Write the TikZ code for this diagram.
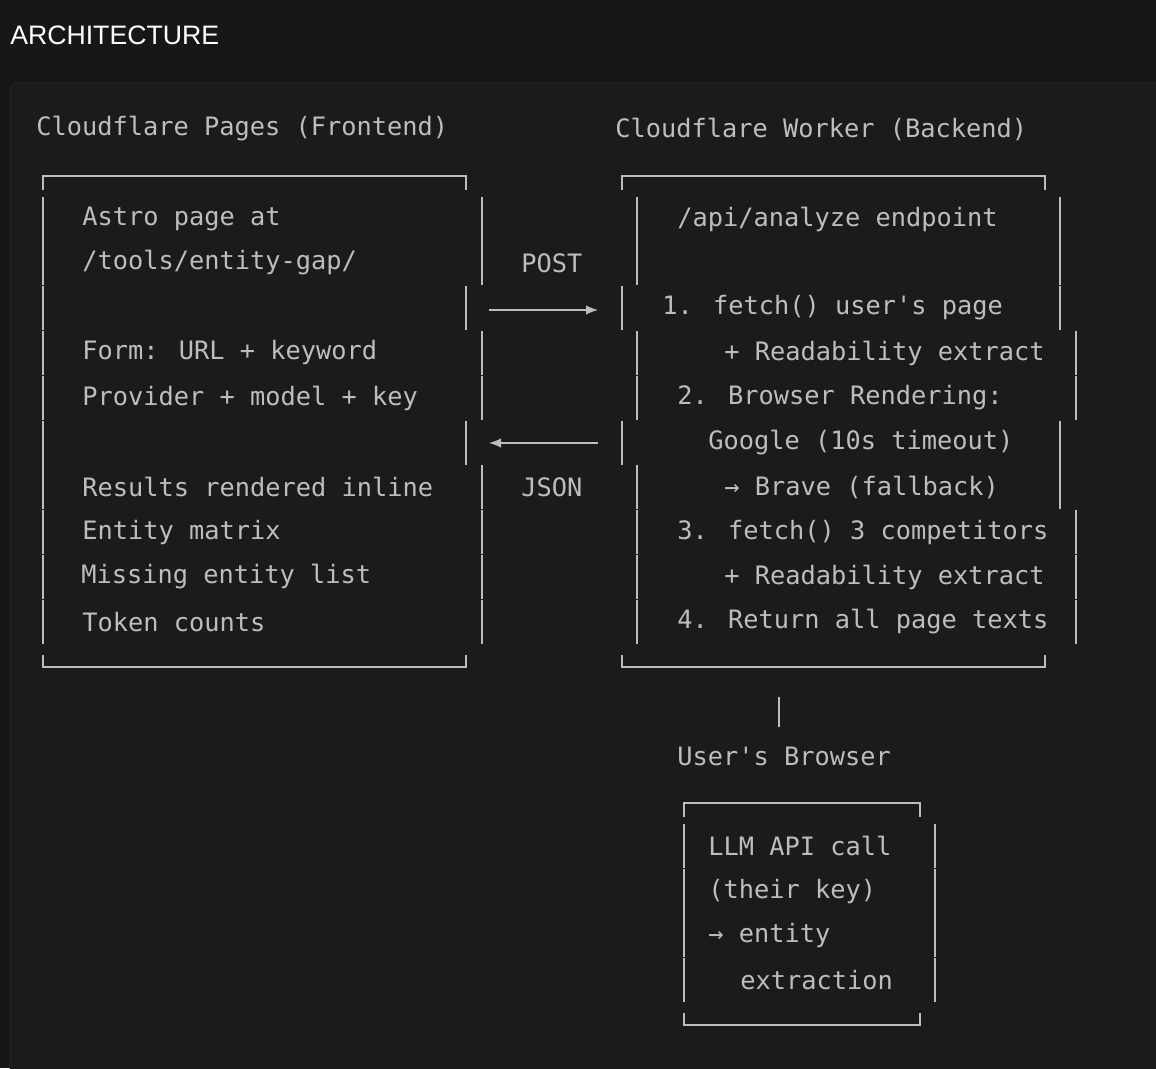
\documentclass[tikz,border=0pt]{standalone}
\usepackage{fontspec}
\setmainfont{Liberation Sans}
\newfontfamily\monofont{DejaVu Sans Mono}
\usetikzlibrary{arrows.meta}
\definecolor{bgdark}{HTML}{171717}
\definecolor{paneldark}{HTML}{1B1B1B}
\definecolor{panelline}{HTML}{2A2A2A}
\definecolor{asciigray}{HTML}{BDBDBD}
\tikzset{
  txt/.style={anchor=west,inner sep=0pt,text=asciigray,font=\monofont\fontsize{19}{22}\selectfont},
  boxline/.style={draw=asciigray,line width=0.9pt},
  flow/.style={boxline,-{Latex[length=9pt,width=7pt]}}
}
% vertical ascii bar at (x,row y)
\newcommand{\vbar}[2]{\draw[boxline] (#1,#2-22) -- (#1,#2+22);}
\begin{document}
\begin{tikzpicture}[x=0.75pt,y=0.75pt,yscale=-1,xscale=1]
\useasboundingbox[fill=bgdark] (0,0) rectangle (1156,1068);
%panel
\draw[fill=paneldark,draw=panelline,rounded corners=6pt] (10,83) rectangle (1180,1090);
\node[anchor=west,inner sep=0pt,text=white,font=\fontsize{20}{24}\selectfont] (title) at (10,35) {ARCHITECTURE};

% headers
\node[txt] (hfront) at (36,129) {Cloudflare Pages (Frontend)};
\node[txt] (hback) at (615,129) {Cloudflare Worker (Backend)};

% left box frame
\draw[boxline] (43,190) -- (43,176) -- (466,176) -- (466,190);
\draw[boxline] (43,655) -- (43,667) -- (466,667) -- (466,655);
\foreach \y/\r in {219/482,263/482,308/466,353/482,398/482,443/466,487/482,532/482,577/482,622/482}{
  \vbar{43}{\y}
  \vbar{\r}{\y}
}
\node[txt] (fa) at (82,219) {Astro page at};
\node[txt] (fb) at (82,263) {/tools/entity-gap/};
\node[txt] (fc) at (82,353) {Form: URL + keyword};
\node[txt] (fd) at (82,398) {Provider + model + key};
\node[txt] (fe) at (82,487) {Results rendered inline};
\node[txt] (ff) at (82,532) {Entity matrix};
\node[txt] (fg) at (81,577) {Missing entity list};
\node[txt] (fh) at (82,622) {Token counts};

% right box frame
\draw[boxline] (622,190) -- (622,176) -- (1045,176) -- (1045,190);
\draw[boxline] (622,655) -- (622,667) -- (1045,667) -- (1045,655);
\foreach \y/\l/\r in {219/637/1060,263/637/1060,308/622/1060,353/637/1076,398/637/1076,443/622/1060,487/637/1060,532/637/1076,577/637/1076,622/637/1076}{
  \vbar{\l}{\y}
  \vbar{\r}{\y}
}
\node[txt] (ba) at (677,219) {/api/analyze endpoint};
\node[txt] (bb) at (662,308) {1. fetch() user's page};
\node[txt] (bc) at (724,353) {+ Readability extract};
\node[txt] (bd) at (677,398) {2. Browser Rendering:};
\node[txt] (be) at (708,443) {Google (10s timeout)};
\node[txt] (bf) at (724,487) {→ Brave (fallback)};
\node[txt] (bg) at (677,532) {3. fetch() 3 competitors};
\node[txt] (bh) at (724,577) {+ Readability extract};
\node[txt] (bi) at (677,622) {4. Return all page texts};

% request / response
\coordinate (postfrom) at (489,310);
\coordinate (postto) at (598,310);
\coordinate (jsonfrom) at (598,443);
\coordinate (jsonto) at (489,443);
\draw[flow] (postfrom) -- (postto);
\draw[flow] (jsonfrom) -- (jsonto);
\node[txt] (post) at (521,263) {POST};
\node[txt] (json) at (521,487) {JSON};

% browser
\coordinate (linktop) at (779,697);
\coordinate (linkbot) at (779,727);
\draw[boxline] (linktop) -- (linkbot);
\node[txt] (browser) at (677,756) {User's Browser};
\draw[boxline] (684,817) -- (684,803) -- (920,803) -- (920,817);
\draw[boxline] (684,1013) -- (684,1025) -- (920,1025) -- (920,1013);
\foreach \y in {846,891,935,980}{
  \vbar{684}{\y}
  \vbar{935}{\y}
}
\node[txt] (la) at (708,846) {LLM API call};
\node[txt] (lb) at (708,891) {(their key)};
\node[txt] (lc) at (708,935) {→ entity};
\node[txt] (ld) at (740,980) {extraction};
\end{tikzpicture}
\end{document}
